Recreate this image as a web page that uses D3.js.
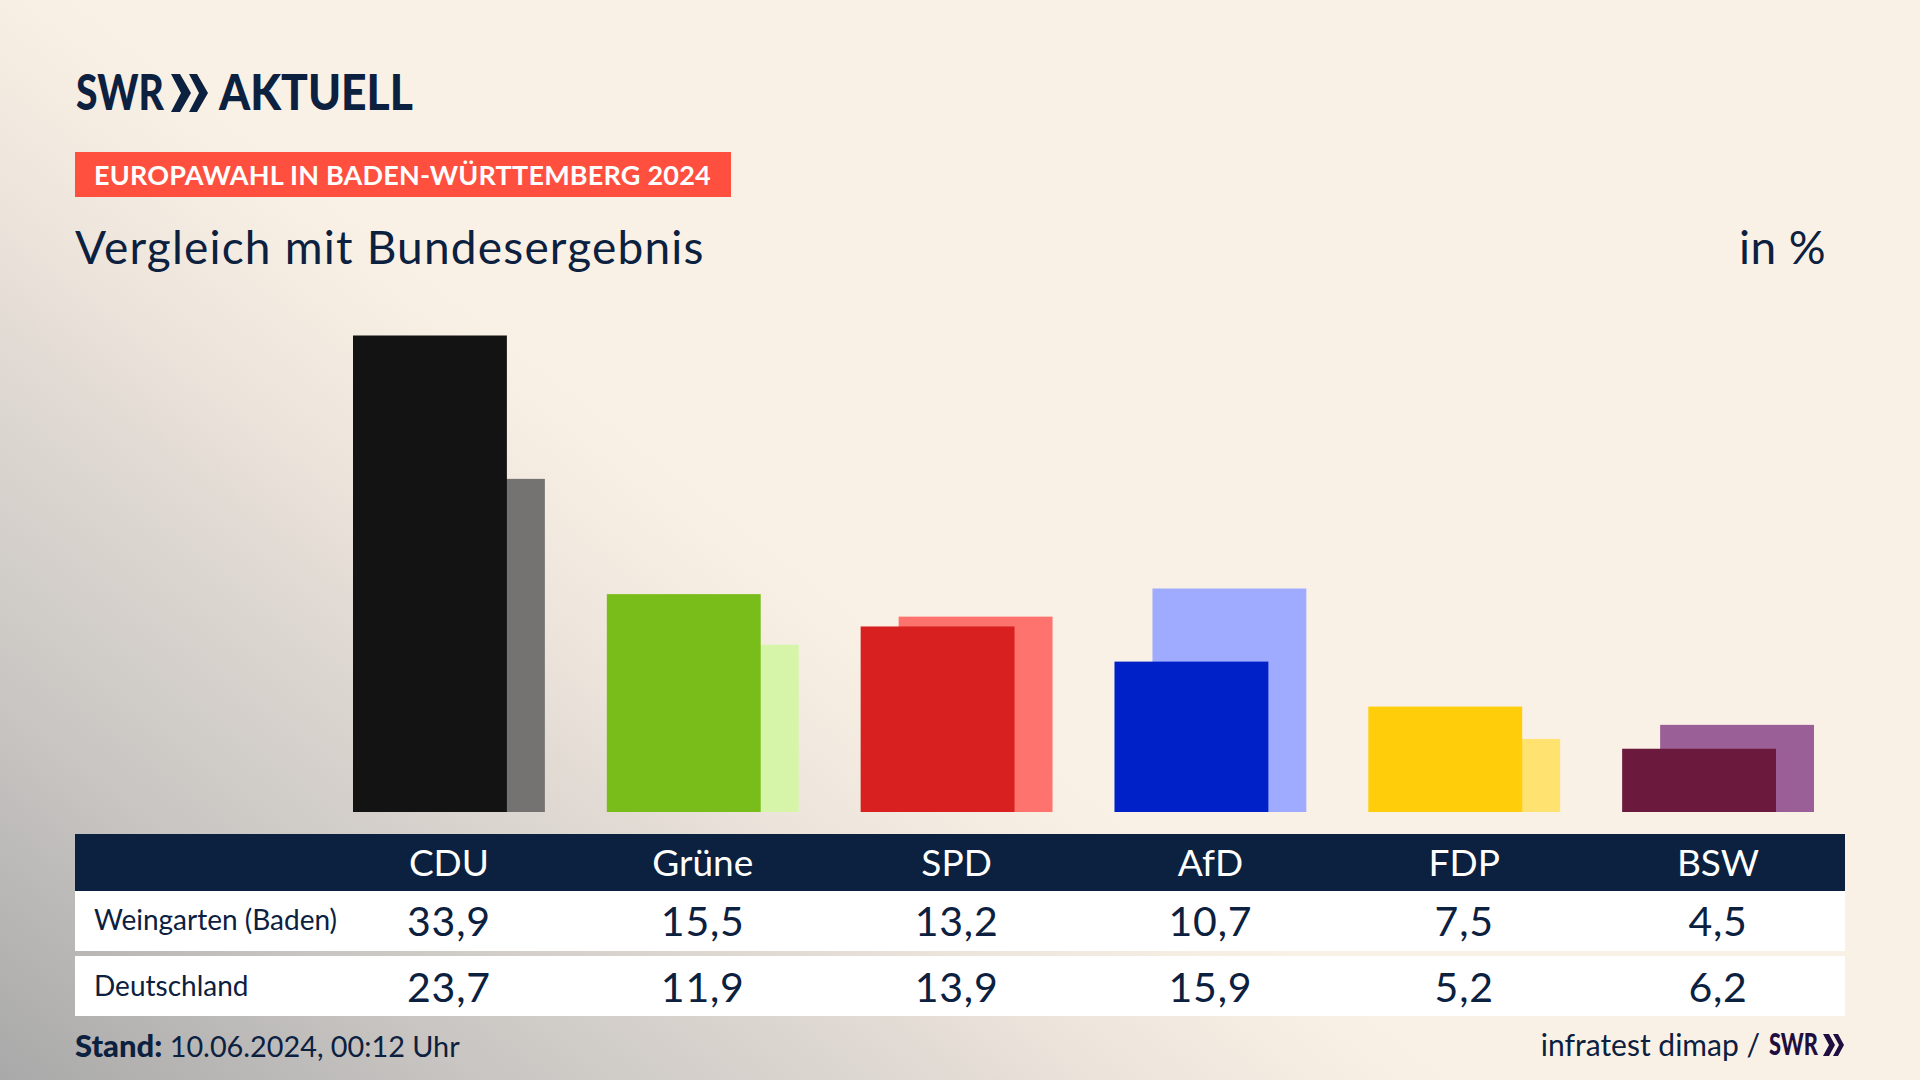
<!DOCTYPE html>
<html>
<head>
<meta charset="utf-8">
<script src="https://cdn.jsdelivr.net/npm/d3@7"></script>
<style>
  html, body { margin: 0; padding: 0; background: #faf1e6; overflow: hidden; }
  text { font-family: Lato, "Open Sans", sans-serif; }
</style>
</head>
<body>
<svg id="chart"></svg>
<script>
const parties = ["CDU", "Grüne", "SPD", "AfD", "FDP", "BSW"];
const weingarten = [33.9, 15.5, 13.2, 10.7, 7.5, 4.5];
const deutschland = [23.7, 11.9, 13.9, 15.9, 5.2, 6.2];
const mainColors = ["#131313", "#78bd1a", "#d7201f", "#0021c8", "#ffcd0a", "#6b1a3e"];
const backColors = ["#747371", "#d6f5a8", "#ff736e", "#9fabff", "#ffe270", "#9b5f97"];
const rowLabels = ["Weingarten (Baden)", "Deutschland"];

const width = 1920, height = 1080;
const navy = "#0c2040";
const fmt = v => v.toFixed(1).replace(".", ",");

const svg = d3.select("#chart").attr("width", width).attr("height", height);

// background
const defs = svg.append("defs");
const grad = defs.append("linearGradient")
  .attr("id", "bg")
  .attr("gradientUnits", "userSpaceOnUse")
  .attr("x1", 0).attr("y1", 1080).attr("x2", 555).attr("y2", 372);
grad.selectAll("stop")
  .data([[0, "#a9a9a9"], [0.33, "#c8c5c2"], [0.67, "#e3dcd5"], [0.76, "#ece4db"], [1, "#faf1e6"]])
  .enter().append("stop")
  .attr("offset", d => d[0])
  .attr("stop-color", d => d[1]);
svg.append("rect").attr("width", width).attr("height", height).attr("fill", "url(#bg)");

// logo
const logo = svg.append("g").attr("fill", navy);
logo.append("text").attr("x", 76).attr("y", 110).attr("font-size", 49).attr("font-weight", 900)
  .attr("textLength", 88).attr("lengthAdjust", "spacingAndGlyphs").text("SWR");
logo.append("path").attr("d", "M171,74 L180,74 L191,93 L180,112 L171,112 L181,93 Z M189,74 L197,74 L208,93 L197,112 L189,112 L199,93 Z");
logo.append("text").attr("x", 219).attr("y", 110).attr("font-size", 49).attr("font-weight", 900)
  .attr("textLength", 194).attr("lengthAdjust", "spacingAndGlyphs").text("AKTUELL");

// tag + title
svg.append("rect").attr("x", 75).attr("y", 152).attr("width", 656).attr("height", 45).attr("fill", "#ff4f3f");
svg.append("text").attr("x", 94).attr("y", 185).attr("font-size", 27).attr("font-weight", 700).attr("fill", "#fff")
  .attr("letter-spacing", 0.2).text("EUROPAWAHL IN BADEN-WÜRTTEMBERG 2024");
svg.append("text").attr("x", 75).attr("y", 264).attr("font-size", 46).attr("fill", navy)
  .attr("letter-spacing", 1.2).text("Vergleich mit Bundesergebnis");
svg.append("text").attr("x", 1826).attr("y", 264).attr("font-size", 46).attr("fill", navy).attr("text-anchor", "end")
  .attr("letter-spacing", 0.4).text("in %");

// scales
const x = d3.scaleBand().domain(parties).range([353, 1814]).paddingInner(62 / 254).paddingOuter(0);
const y = d3.scaleLinear().domain([0, 33.9]).range([812, 335.5]);
const barW = x.bandwidth() * 0.802;
const shift = x.bandwidth() - barW;

// bars, Bund behind
svg.append("g").selectAll("rect").data(parties).enter().append("rect")
  .attr("x", d => x(d) + shift)
  .attr("y", (d, i) => y(deutschland[i]))
  .attr("width", barW)
  .attr("height", (d, i) => y(0) - y(deutschland[i]))
  .attr("fill", (d, i) => backColors[i]);
svg.append("g").selectAll("rect").data(parties).enter().append("rect")
  .attr("x", d => x(d))
  .attr("y", (d, i) => y(weingarten[i]))
  .attr("width", barW)
  .attr("height", (d, i) => y(0) - y(weingarten[i]))
  .attr("fill", (d, i) => mainColors[i]);

// table
svg.append("rect").attr("x", 75).attr("y", 834).attr("width", 1770).attr("height", 57).attr("fill", navy);
svg.append("rect").attr("x", 75).attr("y", 891).attr("width", 1770).attr("height", 60).attr("fill", "#fff");
svg.append("rect").attr("x", 75).attr("y", 956).attr("width", 1770).attr("height", 60).attr("fill", "#fff");

const cx = d => x(d) + x.bandwidth() / 2;
svg.append("g").selectAll("text").data(parties).enter().append("text")
  .attr("x", cx).attr("y", 876).attr("font-size", 37).attr("fill", "#fff").attr("text-anchor", "middle")
  .text(d => d);
[weingarten, deutschland].forEach((row, r) => {
  const base = [936, 1002][r];
  svg.append("text").attr("x", 94).attr("y", base - 6).attr("font-size", 28).attr("fill", navy).text(rowLabels[r]);
  svg.append("g").selectAll("text").data(parties).enter().append("text")
    .attr("x", cx).attr("y", base).attr("font-size", 41).attr("fill", navy).attr("text-anchor", "middle")
    .attr("letter-spacing", 0.8)
    .text((d, i) => fmt(row[i]));
});

// footer
const stand = svg.append("text").attr("x", 75).attr("y", 1057).attr("font-size", 28.8).attr("fill", navy);
stand.append("tspan").attr("font-weight", 900).attr("font-size", 31).text("Stand:");
stand.append("tspan").text(" 10.06.2024, 00:12 Uhr");
svg.append("text").attr("x", 1760).attr("y", 1056).attr("font-size", 30).attr("fill", navy).attr("text-anchor", "end")
  .text("infratest dimap /");
const logo2 = svg.append("g").attr("fill", "#1f0f40");
logo2.append("text").attr("x", 1769).attr("y", 1055).attr("font-size", 30).attr("font-weight", 900)
  .attr("textLength", 49).attr("lengthAdjust", "spacingAndGlyphs").text("SWR");
logo2.append("path").attr("d", "M1823,1034 L1829,1034 L1835,1045 L1829,1056 L1823,1056 L1829,1045 Z M1833,1034 L1838,1034 L1844,1045 L1838,1056 L1833,1056 L1839,1045 Z");
</script>
</body>
</html>
